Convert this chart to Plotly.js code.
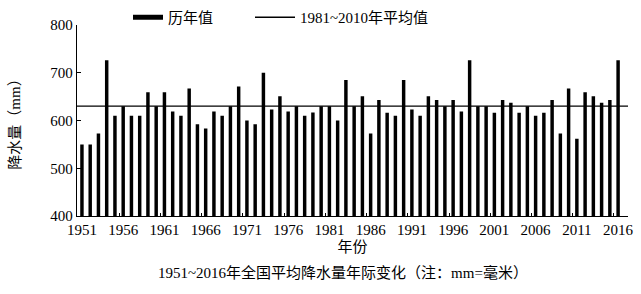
<!DOCTYPE html>
<html>
<head>
<meta charset="utf-8">
<script src="https://cdn.plot.ly/plotly-3.0.1.min.js"></script>
<style>html,body{margin:0;padding:0;background:#fff;}#chart{width:641px;height:294px;}</style>
</head>
<body>
<div id="chart"></div>
<script>
var years = [];
for (var y = 1951; y <= 2016; y++) years.push(String(y));
var rainfall = [
  550, 550, 573, 726, 610, 630, 610, 610, 659, 630,
  659, 619, 610, 667, 592, 583, 619, 610, 630, 671,
  600, 592, 700, 623, 651, 619, 630, 610, 617, 630,
  630, 600, 685, 630, 651, 573, 643, 616, 610, 685,
  623, 610, 651, 643, 630, 643, 619, 726, 630, 630,
  616, 643, 637, 616, 630, 610, 616, 643, 573, 667,
  562, 659, 651, 637, 643, 726
];
var meanValue = 630;
var seriesNames = ['历年值', '1981~2010年平均值'];
var xTitle = '年份';
var yTitle = '降水量（mm）';
var chartTitle = '1951~2016年全国平均降水量年际变化（注：mm=毫米）';

var FONT = '"Liberation Serif", "Times New Roman", "Noto Sans CJK SC", serif';

var traces = [
  {type: 'bar', x: years, y: rainfall, marker: {color: '#000'}, showlegend: false, hoverinfo: 'x+y'},
  {type: 'scatter', mode: 'lines', x: [null], y: [null], name: seriesNames[0], line: {color: '#000', width: 5}, legend: 'legend'},
  {type: 'scatter', mode: 'lines', x: [null], y: [null], name: seriesNames[1], line: {color: '#000', width: 1.3}, legend: 'legend2'}
];

function legendAt(px, iw) {
  return {
    orientation: 'h', xref: 'container', yref: 'container',
    x: px / 641, y: 1 - 1 / 294, xanchor: 'left', yanchor: 'top',
    font: {family: FONT, size: 15}, bgcolor: 'rgba(0,0,0,0)', itemwidth: iw
  };
}

var layout = {
  width: 641, height: 294,
  margin: {l: 77, r: 13, t: 25, b: 78, autoexpand: false},
  paper_bgcolor: '#fff', plot_bgcolor: '#fff',
  font: {family: FONT, size: 15, color: '#000'},
  bargap: 0.58,
  xaxis: {
    type: 'category',
    range: [-0.6, 66.2],
    dtick: 5,
    tickangle: 0,
    tickson: 'boundaries',
    ticks: 'inside', ticklen: 3, tickcolor: '#000', tickwidth: 1,
    showline: true, linecolor: '#000', linewidth: 1.3,
    showgrid: false, zeroline: false,
    tickfont: {family: FONT, size: 15},
    title: {text: xTitle, font: {family: FONT, size: 15}, standoff: 4}
  },
  yaxis: {
    range: [400, 800],
    dtick: 100,
    ticks: 'inside', ticklen: 4, tickcolor: '#000', tickwidth: 1.3,
    showline: true, linecolor: '#000', linewidth: 1.3,
    showgrid: false, zeroline: false,
    tickfont: {family: FONT, size: 15},
    title: {text: yTitle, font: {family: FONT, size: 15}, standoff: 26}
  },
  shapes: [
    {type: 'line', xref: 'paper', x0: 0, x1: 1, yref: 'y', y0: meanValue, y1: meanValue, line: {color: '#000', width: 1.3}}
  ],
  legend: legendAt(128, 30),
  legend2: legendAt(250, 40),
  annotations: [
    {text: chartTitle, xref: 'paper', yref: 'paper', x: (343 - 77) / 551, y: -(272 - 216) / 191,
     xanchor: 'center', yanchor: 'middle', showarrow: false, font: {family: FONT, size: 15}}
  ]
};

Plotly.newPlot('chart', traces, layout, {displayModeBar: false, staticPlot: true});
</script>
</body>
</html>
